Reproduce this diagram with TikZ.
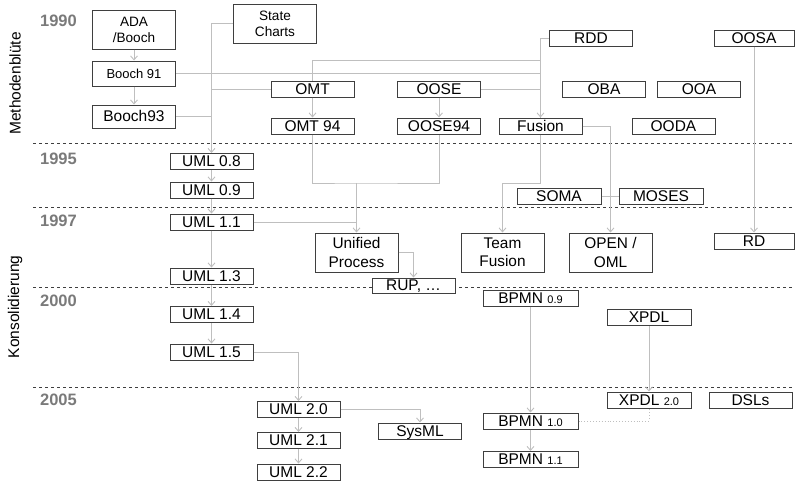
\documentclass[tikz,border=0pt]{standalone}
\usepackage{fontspec}
\setmainfont{Liberation Sans}
\usepackage{tikz}
\usetikzlibrary{arrows.meta}
\definecolor{boxgray}{HTML}{3F3F3F}
\definecolor{linkgray}{HTML}{BFBFBF}
\definecolor{yeargray}{HTML}{7A7A7A}
\tikzset{
  boxbase/.style={draw=boxgray, line width=1pt, fill=white,
    inner sep=0pt, minimum width=83pt},
  methbox/.style={boxbase, font=\fontsize{15.5}{16}\selectfont,
    text height=11pt, text depth=1pt, minimum height=16pt},
  methtbox/.style={boxbase, font=\fontsize{15.4}{18.3}\selectfont,
    align=center, minimum height=39pt},
  evoline/.style={draw=linkgray, line width=0.9pt},
  evoarr/.style={evoline, -{Straight Barb[length=4pt,width=7pt]}},
  eraline/.style={draw=boxgray, line width=1pt, dash pattern=on 3.3pt off 2.7pt},
  yearlbl/.style={font=\fontsize{16.5}{16}\selectfont\bfseries,
    text=yeargray, inner sep=0pt},
  phaselbl/.style={font=\fontsize{15.5}{16}\selectfont, rotate=90, inner sep=0pt},
}
\newcommand{\vsub}[1]{{\fontsize{11}{10}\selectfont #1}}

\begin{document}
\begin{tikzpicture}[x=1pt, y=-1pt]
  \useasboundingbox (0,0) rectangle (795,482);
  % Era separators and year marks
  \foreach \ey in {143,207,287,387}
    \draw[eraline] (33,\ey) -- (795,\ey);
  \node[yearlbl] at (58.5,20.5) (y1990) {1990};
  \node[yearlbl] at (58.5,159)  (y1995) {1995};
  \node[yearlbl] at (58.5,221)  (y1997) {1997};
  \node[yearlbl] at (58.5,300.5) (y2000) {2000};
  \node[yearlbl] at (58.5,399.5) (y2005) {2005};
  \node[phaselbl] at (15,83.5) (blute) {Methodenblüte};
  \node[phaselbl] at (15,307)  (kons)  {Konsolidierung};
  % Row 1990: early methods
  \node[methtbox, font=\fontsize{13.6}{16}\selectfont] at (134,29.5) (ADA) {ADA\\/Booch};
  \node[methbox, minimum height=25pt, font=\fontsize{13}{14}\selectfont] at (134,73.5) (B91) {Booch 91};
  \node[methbox, minimum height=23pt] at (134,116.5) (B93) {Booch93};
  \node[methtbox, font=\fontsize{13.6}{16}\selectfont] at (275,23.5) (SC) {State\\Charts};
  \node[methbox] at (312.5,89)  (OMT)    {OMT};
  \node[methbox] at (439,89)    (OOSE)   {OOSE};
  \node[methbox] at (312.5,126) (OMT94)  {OMT 94};
  \node[methbox] at (439,126)   (OOSE94) {OOSE94};
  \node[methbox] at (540.5,126) (Fusion) {Fusion};
  \node[methbox] at (591,38)    (RDD)    {RDD};
  \node[methbox, minimum width=80pt] at (754,38) (OOSA) {OOSA};
  \node[methbox] at (604,89)    (OBA)    {OBA};
  \node[methbox] at (699,89)    (OOA)    {OOA};
  \node[methbox] at (673.5,126) (OODA)   {OODA};
  % UML line
  \node[methbox] at (211.5,161.5) (UML08) {UML 0.8};
  \node[methbox] at (211.5,190)   (UML09) {UML 0.9};
  \node[methbox] at (211.5,222)   (UML11) {UML 1.1};
  \node[methbox] at (211.5,276)   (UML13) {UML 1.3};
  \node[methbox] at (211.5,314.5) (UML14) {UML 1.4};
  \node[methbox] at (211.5,352)   (UML15) {UML 1.5};
  \node[methbox] at (298.5,409.5) (UML20) {UML 2.0};
  \node[methbox] at (298.5,440.5) (UML21) {UML 2.1};
  \node[methbox] at (298.5,472)   (UML22) {UML 2.2};
  \node[methbox] at (420,431)     (SysML) {SysML};
  % Processes and successors
  \node[methtbox] at (356.5,252.5) (UP)    {Unified\\Process};
  \node[methbox, minimum height=15pt] at (413.5,285.5) (RUP) {RUP, \dots};
  \node[methtbox] at (502.5,252.5) (TF)    {Team\\Fusion};
  \node[methtbox] at (610.5,252.5) (OPEN)  {OPEN /\\OML};
  \node[methbox, minimum width=80pt] at (754,241) (RD) {RD};
  \node[methbox, minimum width=84pt] at (559,196) (SOMA)  {SOMA};
  \node[methbox, minimum width=84pt] at (661,196) (MOSES) {MOSES};
  % Business processes
  \node[methbox, minimum width=95pt] at (530.5,298)   (BPMN09) {BPMN \vsub{0.9}};
  \node[methbox, minimum width=95pt] at (530.5,421)   (BPMN10) {BPMN \vsub{1.0}};
  \node[methbox, minimum width=95pt] at (530.5,459.5) (BPMN11) {BPMN \vsub{1.1}};
  \node[methbox, minimum width=84pt] at (649,317.5) (XPDL)   {XPDL};
  \node[methbox, minimum width=84pt] at (649,400)   (XPDL20) {XPDL \vsub{2.0}};
  \node[methbox] at (750.5,400) (DSLs) {DSLs};
  % Edges: Booch and UML
  \draw[evoarr]  (ADA) -- (B91);
  \draw[evoarr]  (B91) -- (B93);
  \draw[evoarr]  (SC.west) -| (UML08.north);
  \draw[evoline] (B93.east) -- (B93.east -| UML08.north);
  \draw[evoline] (OMT.west) -- (OMT.west -| UML08.north);
  % Edges: Fusion
  \draw[evoarr]  (RDD.west) -| (Fusion.north);
  \draw[evoline] (B91.east) -- (B91.east -| Fusion.north);
  \draw[evoline] (OMT.north) -- ++(0,-20) -| (Fusion.north);
  \draw[evoline] (OOSE.east) -- (OOSE.east -| Fusion.north);
  \draw[evoarr]  (OMT) -- (OMT94);
  \draw[evoarr]  (OOSE) -- (OOSE94);
  % Edges: Unified Process
  \coordinate (upjoin) at (356.5,183);
  \draw[evoline] (OMT94.south) |- (upjoin) -| (OOSE94.south);
  \draw[evoarr]  (upjoin) -- (UP.north);
  \draw[evoline] (UML11.east) -- (UML11.east -| UP.north);
  \draw[evoarr]  (UP.east) -| (RUP.north);
  % Edges: Fusion successors
  \draw[evoarr]  (Fusion.south) -- ++(0,49) -| (TF.north);
  \draw[evoarr]  (Fusion.east) -| (OPEN.north);
  \draw[evoline] (SOMA) -- (MOSES);
  \draw[evoarr]  (OOSA) -- (RD);
  % Edges: UML versions
  \draw[evoarr]  (UML08) -- (UML09);
  \draw[evoarr]  (UML09) -- (UML11);
  \draw[evoarr]  (UML11) -- (UML13);
  \draw[evoarr]  (UML13) -- (UML14);
  \draw[evoarr]  (UML14) -- (UML15);
  \draw[evoarr]  (UML15.east) -| (UML20.north);
  \draw[evoarr]  (UML20) -- (UML21);
  \draw[evoarr]  (UML21) -- (UML22);
  \draw[evoarr]  (UML20.east) -| (SysML.north);
  % Edges: BPMN and XPDL
  \draw[evoarr]  (BPMN09) -- (BPMN10);
  \draw[evoarr]  (BPMN10) -- (BPMN11);
  \draw[evoarr]  (XPDL) -- (XPDL20);
  \draw[evoline, dotted] (BPMN10.east) -| (XPDL20.south);
\end{tikzpicture}
\end{document}
